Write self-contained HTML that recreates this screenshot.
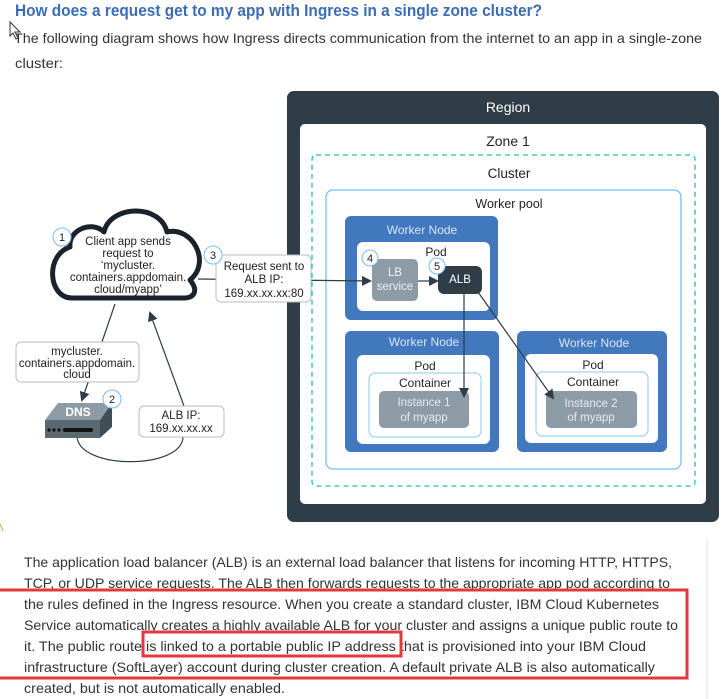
<!DOCTYPE html>
<html><head><meta charset="utf-8"><style>
html,body{margin:0;padding:0;background:#fff;}
svg{display:block;}
text{font-family:"Liberation Sans",sans-serif;}
</style></head><body>
<svg width="725" height="699" viewBox="0 0 725 699" xmlns="http://www.w3.org/2000/svg">
<defs>
<marker id="ar" markerWidth="10" markerHeight="10" refX="8" refY="5" orient="auto" markerUnits="userSpaceOnUse"><path d="M0,0 L10,5 L0,10 z" fill="#2e3d48"/></marker>
</defs>
<!-- header text -->
<text x="15" y="16" font-size="16.5" font-weight="bold" fill="#3c6db4" textLength="527" lengthAdjust="spacingAndGlyphs">How does a request get to my app with Ingress in a single zone cluster?</text>
<text x="14" y="43" font-size="14" fill="#333" textLength="688" lengthAdjust="spacingAndGlyphs">The following diagram shows how Ingress directs communication from the internet to an app in a single-zone</text>
<text x="15" y="68" font-size="14" fill="#333" textLength="48" lengthAdjust="spacingAndGlyphs">cluster:</text>
<path d="M10,22 L10,36 L13,33 L16,39 L18,38 L15,32 L20,32 Z" fill="#fff" stroke="#333" stroke-width="1"/>

<!-- region -->
<rect x="287" y="91" width="432" height="431" rx="7" fill="#2e3d48"/>
<text x="508" y="112" font-size="14" fill="#fff" text-anchor="middle">Region</text>
<rect x="300" y="124" width="406" height="380" rx="5" fill="#fff"/>
<text x="508" y="146" font-size="14" fill="#222" text-anchor="middle">Zone 1</text>
<rect x="312" y="155" width="383" height="331" rx="4" fill="none" stroke="#20c0a8" stroke-width="1.3" stroke-dasharray="5,4"/>
<text x="509" y="178" font-size="13.5" fill="#222" text-anchor="middle">Cluster</text>
<rect x="326" y="190" width="355" height="279" rx="7" fill="none" stroke="#78bdf5" stroke-width="1.3"/>
<text x="509" y="208" font-size="12.5" fill="#222" text-anchor="middle">Worker pool</text>

<!-- WN1 -->
<rect x="345" y="216" width="153" height="104" rx="6" fill="#4178be"/>
<text x="422" y="234" font-size="12" fill="#dbe6f5" text-anchor="middle">Worker Node</text>
<rect x="357" y="242" width="133" height="69" rx="6" fill="#fff"/>
<text x="436" y="256" font-size="12" fill="#222" text-anchor="middle">Pod</text>
<rect x="372" y="259" width="46" height="42" rx="5" fill="#8c9ba5"/>
<text x="395" y="276" font-size="11.5" fill="#eef" text-anchor="middle">LB</text>
<text x="395" y="290" font-size="11.5" fill="#eef" text-anchor="middle">service</text>
<rect x="438" y="266" width="44" height="28" rx="6" fill="#2e3d48"/>
<text x="460" y="283" font-size="11.5" fill="#fff" text-anchor="middle">ALB</text>
<circle cx="370" cy="258" r="8" fill="#fff" stroke="#78bdf5"/><text x="370" y="262" font-size="11" fill="#222" text-anchor="middle">4</text>
<circle cx="437" cy="266" r="8" fill="#fff" stroke="#78bdf5"/><text x="437" y="270" font-size="11" fill="#222" text-anchor="middle">5</text>

<!-- WN2 -->
<rect x="345" y="331" width="154" height="121" rx="6" fill="#4178be"/>
<text x="424" y="346" font-size="12" fill="#dbe6f5" text-anchor="middle">Worker Node</text>
<rect x="357" y="355" width="133" height="89" rx="6" fill="#fff"/>
<text x="425" y="370" font-size="12" fill="#222" text-anchor="middle">Pod</text>
<rect x="369" y="373" width="112" height="64" rx="6" fill="#fff" stroke="#8ec8f2"/>
<text x="425" y="387" font-size="12" fill="#222" text-anchor="middle">Container</text>
<rect x="379" y="391" width="90" height="37" rx="5" fill="#8c9ba5"/>
<text x="424" y="406" font-size="11.5" fill="#e6eaee" text-anchor="middle">Instance 1</text>
<text x="424" y="421" font-size="11.5" fill="#e6eaee" text-anchor="middle">of myapp</text>

<!-- WN3 -->
<rect x="517" y="331" width="150" height="121" rx="6" fill="#4178be"/>
<text x="594" y="347" font-size="12" fill="#dbe6f5" text-anchor="middle">Worker Node</text>
<rect x="525" y="354" width="133" height="89" rx="6" fill="#fff"/>
<text x="593" y="369" font-size="12" fill="#222" text-anchor="middle">Pod</text>
<rect x="536" y="372" width="112" height="64" rx="6" fill="#fff" stroke="#8ec8f2"/>
<text x="593" y="386" font-size="12" fill="#222" text-anchor="middle">Container</text>
<rect x="546" y="391" width="91" height="37" rx="5" fill="#8c9ba5"/>
<text x="591" y="407" font-size="11.5" fill="#e6eaee" text-anchor="middle">Instance 2</text>
<text x="591" y="421" font-size="11.5" fill="#e6eaee" text-anchor="middle">of myapp</text>

<!-- arrows -->
<line x1="198" y1="279" x2="370" y2="281" stroke="#2e3d48" stroke-width="1.2" marker-end="url(#ar)"/>
<line x1="418" y1="281" x2="437" y2="281" stroke="#2e3d48" stroke-width="1.2" marker-end="url(#ar)"/>
<line x1="464" y1="293" x2="464" y2="396" stroke="#2e3d48" stroke-width="1.2" marker-end="url(#ar)"/>
<line x1="478" y1="292" x2="553" y2="398" stroke="#2e3d48" stroke-width="1.2" marker-end="url(#ar)"/>

<!-- label 3 -->
<rect x="216" y="255" width="95" height="47" rx="5" fill="#fff" stroke="#bbb"/>
<text x="264" y="270" font-size="11.5" fill="#222" text-anchor="middle">Request sent to</text>
<text x="264" y="283" font-size="11.5" fill="#222" text-anchor="middle">ALB IP:</text>
<text x="264" y="297" font-size="11.5" fill="#222" text-anchor="middle">169.xx.xx.xx:80</text>
<circle cx="213" cy="255" r="9" fill="#fff" stroke="#78bdf5"/><text x="213" y="259" font-size="11" fill="#222" text-anchor="middle">3</text>

<!-- cloud -->
<path d="M72,298 C48,298 45,255 70,247 C68,230 92,220 104,232 C110,205 160,203 167,232 C192,226 212,262 190,280 C200,292 192,298 185,298 Z" fill="#fff" stroke="#1a232b" stroke-width="5" stroke-linejoin="round"/>
<text x="128" y="245" font-size="11.5" fill="#222" text-anchor="middle">Client app sends</text>
<text x="128" y="257" font-size="11.5" fill="#222" text-anchor="middle">request to</text>
<text x="128" y="269" font-size="11.5" fill="#222" text-anchor="middle">‘mycluster.</text>
<text x="128" y="281" font-size="11.5" fill="#222" text-anchor="middle">containers.appdomain.</text>
<text x="128" y="293" font-size="11.5" fill="#222" text-anchor="middle">cloud/myapp’</text>
<circle cx="62" cy="237" r="9" fill="#fff" stroke="#78bdf5"/><text x="62" y="241" font-size="11" fill="#222" text-anchor="middle">1</text>

<!-- DNS lines -->
<line x1="115" y1="304" x2="82" y2="400" stroke="#2e3d48" stroke-width="1.2" marker-end="url(#ar)"/>
<line x1="184" y1="406" x2="150" y2="313" stroke="#2e3d48" stroke-width="1.2" marker-end="url(#ar)"/>
<path d="M77,436 C78,470 182,470 183,437" fill="none" stroke="#2e3d48" stroke-width="1.2"/>
<rect x="16" y="342" width="123" height="40" rx="5" fill="#fff" stroke="#bbb"/>
<text x="77" y="355" font-size="11.5" fill="#222" text-anchor="middle">mycluster.</text>
<text x="77" y="367" font-size="11.5" fill="#222" text-anchor="middle">containers.appdomain.</text>
<text x="77" y="378" font-size="11.5" fill="#222" text-anchor="middle">cloud</text>
<rect x="139" y="406" width="85" height="31" rx="5" fill="#fff" stroke="#bbb"/>
<text x="181" y="419" font-size="11.5" fill="#222" text-anchor="middle">ALB IP:</text>
<text x="181" y="432" font-size="11.5" fill="#222" text-anchor="middle">169.xx.xx.xx</text>
<!-- DNS device -->
<polygon points="58,403 112,403 100,420 45,420" fill="#8c9ba5"/>
<polygon points="100,420 112,403 112,427 100,438" fill="#3f4d57"/>
<rect x="45" y="420" width="55" height="18" fill="#5a6872"/>
<text x="78" y="416" font-size="12" font-weight="bold" fill="#fff" text-anchor="middle">DNS</text>
<circle cx="49" cy="430" r="1.6" fill="#111"/><circle cx="54" cy="430" r="1.6" fill="#111"/><circle cx="59" cy="430" r="1.6" fill="#111"/>
<rect x="63" y="428" width="30" height="4" rx="2" fill="#111"/>
<circle cx="112" cy="399" r="9" fill="#fff" stroke="#78bdf5"/><text x="112" y="403" font-size="11" fill="#222" text-anchor="middle">2</text>

<!-- lower separator -->
<line x1="707" y1="540" x2="707" y2="699" stroke="#e0e0e0"/>
<line x1="0" y1="524" x2="3" y2="531" stroke="#e8a040"/>

<!-- paragraph -->
<g font-size="14" fill="#333">
<text x="24" y="567" textLength="648" lengthAdjust="spacingAndGlyphs">The application load balancer (ALB) is an external load balancer that listens for incoming HTTP, HTTPS,</text>
<text x="24" y="588" textLength="646" lengthAdjust="spacingAndGlyphs">TCP, or UDP service requests. The ALB then forwards requests to the appropriate app pod according to</text>
<text x="24" y="609" textLength="635" lengthAdjust="spacingAndGlyphs">the rules defined in the Ingress resource. When you create a standard cluster, IBM Cloud Kubernetes</text>
<text x="24" y="630" textLength="654" lengthAdjust="spacingAndGlyphs">Service automatically creates a highly available ALB for your cluster and assigns a unique public route to</text>
<text x="24" y="651" textLength="622" lengthAdjust="spacingAndGlyphs">it. The public route is linked to a portable public IP address that is provisioned into your IBM Cloud</text>
<text x="24" y="672" textLength="631" lengthAdjust="spacingAndGlyphs">infrastructure (SoftLayer) account during cluster creation. A default private ALB is also automatically</text>
<text x="24" y="693" textLength="261" lengthAdjust="spacingAndGlyphs">created, but is not automatically enabled.</text>
</g>
<rect x="-2" y="590" width="689" height="88" fill="none" stroke="#e0393e" stroke-width="3"/>
<rect x="143" y="632" width="258" height="24" fill="none" stroke="#e0393e" stroke-width="3"/>
</svg>
</body></html>
